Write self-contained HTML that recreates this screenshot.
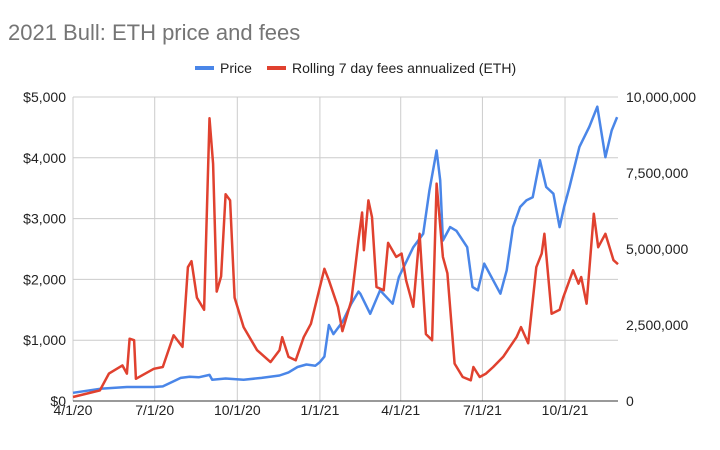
<!DOCTYPE html>
<html><head><meta charset="utf-8"><style>
body{margin:0;background:#fff;font-family:"Liberation Sans",Arial,sans-serif}
</style></head><body>
<svg id="chart" width="720" height="445" xmlns="http://www.w3.org/2000/svg" font-family="Liberation Sans, Arial, sans-serif">
<rect width="720" height="445" fill="#fff"/>
<text x="8" y="40" font-size="22" fill="#757575">2021 Bull: ETH price and fees</text>
<g>
<g><line x1="195" y1="68" x2="214" y2="68" stroke="#4a86e8" stroke-width="4"/><text x="220" y="73" font-size="14" fill="#222">Price</text></g>
<g><line x1="267" y1="68" x2="286" y2="68" stroke="#e0412f" stroke-width="4"/><text x="292" y="73" font-size="14" fill="#222">Rolling 7 day fees annualized (ETH)</text></g>
</g>
<g id="grid"></g>
<g id="axes"></g>
<g id="series"></g>
</svg>
<script>
const xTickLabels=["4/1/20","7/1/20","10/1/20","1/1/21","4/1/21","7/1/21","10/1/21"];
const xTickDays=[0,91,183,275,365,456,548];
const leftTicks=[0,1000,2000,3000,4000,5000];
const leftTickLabels=["$0","$1,000","$2,000","$3,000","$4,000","$5,000"];
const rightTicks=[0,2500000,5000000,7500000,10000000];
const rightTickLabels=["0","2,500,000","5,000,000","7,500,000","10,000,000"];
const priceDays=[0,30,60,90,100,120,130,140,152,155,170,190,210,230,240,250,260,270,275,280,285,290,300,310,318,320,331,342,356,363,379,390,397,405,409,412,420,427,439,445,451,458,468,476,483,490,498,505,512,520,527,535,542,547,553,564,575,584,593,600,606];
const priceValues=[135,200,230,230,240,380,400,390,430,350,370,350,380,420,470,560,600,580,640,730,1250,1100,1300,1600,1800,1765,1435,1820,1600,2040,2530,2750,3460,4120,3630,2640,2860,2800,2530,1875,1820,2260,1985,1765,2150,2860,3190,3300,3350,3960,3520,3410,2860,3190,3520,4180,4510,4840,4010,4450,4670];
const feeDays=[0,30,40,55,60,63,68,70,90,100,112,122,128,132,138,146,152,156,160,165,170,175,180,190,205,220,230,233,240,248,257,265,275,280,285,295,300,310,318,322,324,329,333,338,346,351,360,366,371,379,386,393,400,405,412,417,425,434,443,446,453,460,468,479,494,499,507,516,522,525,533,542,546,557,563,566,572,580,585,593,602,607];
const feeValues=[130000,350000,900000,1170000,900000,2050000,2000000,730000,1060000,1120000,2160000,1780000,4400000,4600000,3400000,3000000,9300000,7800000,3600000,4100000,6800000,6600000,3400000,2430000,1670000,1280000,1670000,2100000,1450000,1340000,2100000,2540000,3750000,4350000,3970000,3100000,2300000,3300000,5300000,6200000,4960000,6600000,6050000,3750000,3640000,5200000,4740000,4850000,3970000,3100000,5500000,2200000,2000000,7150000,4740000,4200000,1230000,790000,680000,1120000,790000,900000,1120000,1450000,2100000,2430000,1900000,4400000,4850000,5500000,2870000,3000000,3400000,4300000,3860000,4080000,3200000,6160000,5060000,5500000,4630000,4500000];
const X0=73,X1=618,Y0=401,Y1=97,DMAX=607;
const xs=d=>X0+(X1-X0)*d/DMAX;
const yL=v=>Y0-(Y0-Y1)*v/5000;
const yR=v=>Y0-(Y0-Y1)*v/10000000;
const NS="http://www.w3.org/2000/svg";
function mk(t,a,p){const e=document.createElementNS(NS,t);for(const k in a)e.setAttribute(k,a[k]);p.appendChild(e);return e;}
const grid=document.getElementById('grid'),axes=document.getElementById('axes'),ser=document.getElementById('series');
leftTicks.forEach((v,i)=>{
 const l=mk('line',{x1:X0,x2:X1,y1:yL(v),y2:yL(v),stroke:i==0?'#333':'#ccc','stroke-width':1},grid);
 
 
 const t=mk('text',{x:66,y:yL(v)+5,'font-size':14,fill:'#222','text-anchor':'end'},axes);
 t.textContent=leftTickLabels[i];
 
 
});
rightTicks.forEach((v,i)=>{
 const t=mk('text',{x:626,y:yR(v)+5,'font-size':14,fill:'#222'},axes);
 t.textContent=rightTickLabels[i];
 
 
});
xTickDays.forEach((d,i)=>{
 const l=mk('line',{x1:xs(d),x2:xs(d),y1:Y1,y2:Y0,stroke:'#ccc','stroke-width':1},grid);
 
 
 const t=mk('text',{x:xs(d),y:Y0+14,'font-size':14,fill:'#222','text-anchor':'middle'},axes);
 t.textContent=xTickLabels[i];
 
 
});
mk('line',{x1:X0,x2:X1,y1:Y0,y2:Y0,stroke:'#333','stroke-width':1},axes);
const pp=mk('path',{d:'M'+priceDays.map((d,i)=>xs(d).toFixed(1)+','+yL(priceValues[i]).toFixed(1)).join('L'),fill:'none',stroke:'#4a86e8','stroke-width':2.5,'stroke-linejoin':'round'},ser);


const fp=mk('path',{d:'M'+feeDays.map((d,i)=>xs(d).toFixed(1)+','+yR(feeValues[i]).toFixed(1)).join('L'),fill:'none',stroke:'#e0412f','stroke-width':2.5,'stroke-linejoin':'round'},ser);


</script>
</body></html>
